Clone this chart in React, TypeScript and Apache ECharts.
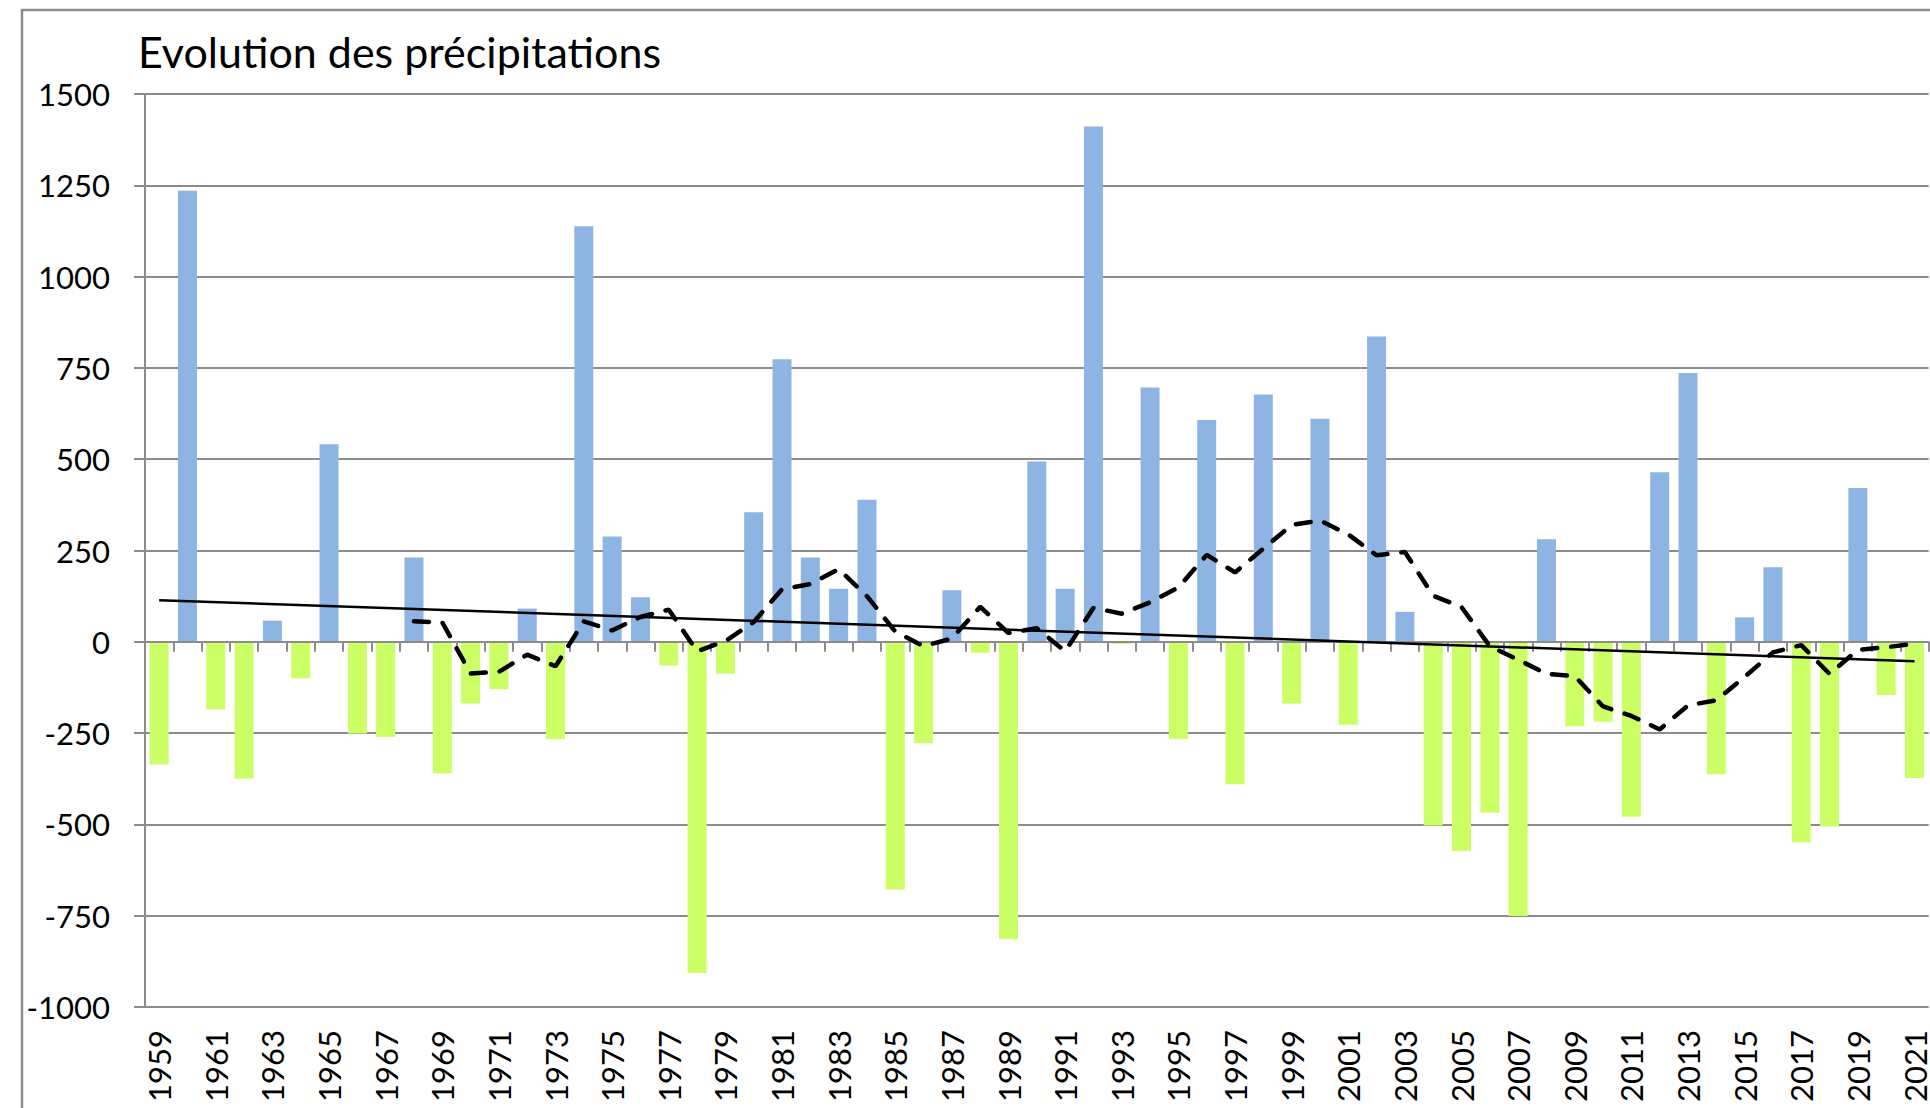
import React, { useEffect, useRef } from "react";
import * as echarts from "echarts";

const years = [
  "1959", "1960", "1961", "1962", "1963", "1964", "1965", "1966", "1967", "1968",
  "1969", "1970", "1971", "1972", "1973", "1974", "1975", "1976", "1977", "1978",
  "1979", "1980", "1981", "1982", "1983", "1984", "1985", "1986", "1987", "1988",
  "1989", "1990", "1991", "1992", "1993", "1994", "1995", "1996", "1997", "1998",
  "1999", "2000", "2001", "2002", "2003", "2004", "2005", "2006", "2007", "2008",
  "2009", "2010", "2011", "2012", "2013", "2014", "2015", "2016", "2017", "2018",
  "2019", "2020", "2021",
];

// écart de précipitations par année
const precipAnomaly = [
  -336, 1235, -185, -375, 58, -100, 541, -251, -261, 231,
  -360, -169, -130, 91, -266, 1138, 288, 122, -65, -907,
  -87, 355, 774, 231, 145, 389, -678, -278, 141, -30,
  -814, 494, 145, 1411, -6, 696, -266, 607, -390, 677,
  -169, 611, -227, 836, 82, -503, -573, -468, -751, 281,
  -231, -219, -479, 464, 736, -363, 67, 204, -549, -506,
  421, -146, -373,
];

// moyenne mobile sur 10 ans (pointillés)
const movingAverage10 = [
  null, null, null, null, null, null, null, null, null, 56,
  53, -87, -82, -35, -67, 56, 31, 68, 88, -26,
  2, 54, 144, 158, 199, 125, 28, -12, 9, 96,
  24, 37, -26, 93, 77, 108, 149, 238, 190, 255,
  320, 332, 294, 237, 246, 126, 95, -12, -49, -88,
  -94, -177, -203, -240, -174, -160, -96, -29, -9, -88,
  -22, -15, -5,
];

// tendance linéaire (extrémités)
const trendStart = 114;
const trendEnd = -53;

const yMin = -1000;
const yMax = 1500;
const yStep = 250;

const BLUE = "#8EB4E3";
const GREEN = "#CCFF66";
const GRAY = "#8c8c8c";
const FONT = "Lato";

export default function App() {
  const ref = useRef<HTMLDivElement>(null);

  useEffect(() => {
    document.body.style.margin = "0";
    if (!ref.current) return;
    const chart = echarts.init(ref.current, undefined, { renderer: "svg" });

    const trendData = years.map((_, i) =>
      i === 0 ? trendStart : i === years.length - 1 ? trendEnd : null
    );

    chart.setOption({
      animation: false,
      backgroundColor: "#ffffff",
      title: {
        text: "Evolution des précipitations",
        left: 133,
        top: 25,
        textStyle: {
          fontFamily: FONT,
          fontSize: 43,
          fontWeight: "normal",
          color: "#000000",
        },
      },
      graphic: [
        {
          type: "rect",
          shape: { x: 22, y: 10, width: 2000, height: 2000 },
          style: { fill: "none", stroke: GRAY, lineWidth: 2.5 },
          silent: true,
        },
      ],
      grid: { left: 145, right: 1, top: 94, bottom: 101, containLabel: false },
      xAxis: [
        {
          type: "category",
          data: years,
          position: "bottom",
          boundaryGap: true,
          z: 3,
          axisLine: { show: true, onZero: true, lineStyle: { color: GRAY, width: 2 } },
          axisTick: { show: true, interval: 0, length: 10, inside: false, lineStyle: { color: GRAY, width: 2 } },
          axisLabel: { show: false },
          splitLine: { show: false },
        },
        {
          type: "category",
          data: years,
          position: "bottom",
          boundaryGap: true,
          axisLine: { show: false, onZero: false },
          axisTick: { show: false },
          splitLine: { show: false },
          axisLabel: {
            show: true,
            interval: 1,
            rotate: 90,
            margin: 23,
            fontFamily: FONT,
            fontSize: 31,
            color: "#000000",
          },
        },
      ],
      yAxis: {
        type: "value",
        min: yMin,
        max: yMax,
        interval: yStep,
        axisLine: { show: true, lineStyle: { color: GRAY, width: 2 } },
        axisTick: { show: true, length: 11, inside: false, lineStyle: { color: GRAY, width: 2 } },
        axisLabel: {
          margin: 35,
          fontFamily: FONT,
          fontSize: 31,
          color: "#000000",
          formatter: (v: number) => String(v),
        },
        splitLine: { show: true, lineStyle: { color: GRAY, width: 2 } },
      },
      series: [
        {
          name: "Précipitations",
          type: "bar",
          data: precipAnomaly,
          barWidth: 19,
          itemStyle: {
            color: (p: any) => (p.value >= 0 ? BLUE : GREEN),
          },
        },
        {
          name: "Tendance",
          type: "line",
          data: trendData,
          connectNulls: true,
          symbol: "none",
          z: 4,
          lineStyle: { color: "#000000", width: 2.5, type: "solid" },
        },
        {
          name: "Moyenne mobile 10 ans",
          type: "line",
          data: movingAverage10,
          symbol: "none",
          z: 5,
          lineStyle: {
            color: "#000000",
            width: 4.5,
            type: [15, 14],
            cap: "round",
          },
        },
      ],
    });

    return () => chart.dispose();
  }, []);

  return <div ref={ref} style={{ width: 1930, height: 1108 }} />;
}
